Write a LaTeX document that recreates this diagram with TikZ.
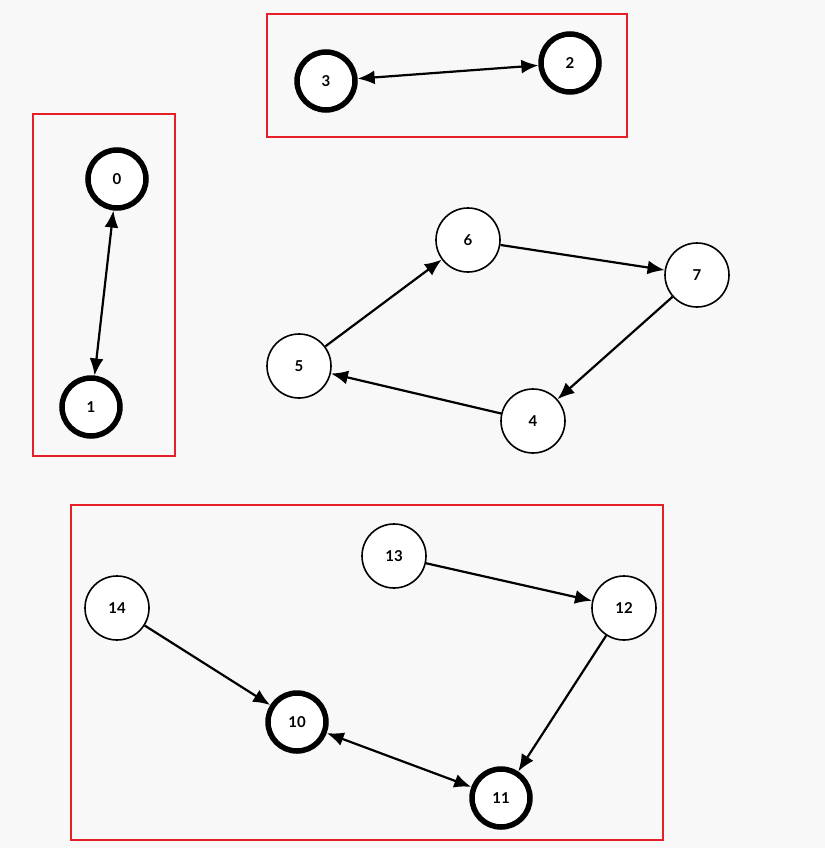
\documentclass[tikz,border=0pt]{standalone}
\usepackage{fontspec}
\setmainfont{Lato}
\usetikzlibrary{arrows.meta}
\begin{document}
\begin{tikzpicture}[x=1pt,y=-1pt,
  nd/.style={circle,draw=black,fill=white,line width=1.6pt,minimum size=64pt,inner sep=0pt,font=\bfseries\fontsize{15}{15}\selectfont},
  tk/.style={nd,line width=5.5pt,minimum size=58pt},
  ar/.style={line width=2.2pt,-{Latex[length=17pt,width=14pt]}},
  br/.style={line width=2.2pt,{Latex[length=17pt,width=14pt]}-{Latex[length=17pt,width=14pt]}},
  grp/.style={draw={rgb,255:red,230;green,30;blue,40},line width=1.8pt}]
\fill[fill={rgb,255:red,248;green,248;blue,248}] (0,0) rectangle (825,848);
\useasboundingbox (0,0) rectangle (825,848);
\draw[grp] (33,114) rectangle (175,456);
\draw[grp] (267,14) rectangle (627,137);
\draw[grp] (71,505) rectangle (663,840);
\node[tk] (n0) at (117,179) {0};
\node[tk] (n1) at (91,407) {1};
\node[tk] (n3) at (326,81) {3};
\node[tk] (n2) at (570,63) {2};
\node[nd] (n6) at (468,240) {6};
\node[nd] (n7) at (697,275) {7};
\node[nd] (n5) at (299,366) {5};
\node[nd] (n4) at (533,421) {4};
\node[nd] (n13) at (394,556) {13};
\node[nd] (n12) at (624,608) {12};
\node[nd] (n14) at (117,608) {14};
\node[tk] (n10) at (297,722) {10};
\node[tk] (n11) at (501,798) {11};
\draw[br] (n0) -- (n1);
\draw[br] (n3) -- (n2);
\draw[ar] (n5) -- (n6);
\draw[ar] (n6) -- (n7);
\draw[ar] (n7) -- (n4);
\draw[ar] (n4) -- (n5);
\draw[ar] (n13) -- (n12);
\draw[ar] (n12) -- (n11);
\draw[ar] (n14) -- (n10);
\draw[br] (n10) -- (n11);
\end{tikzpicture}
\end{document}
